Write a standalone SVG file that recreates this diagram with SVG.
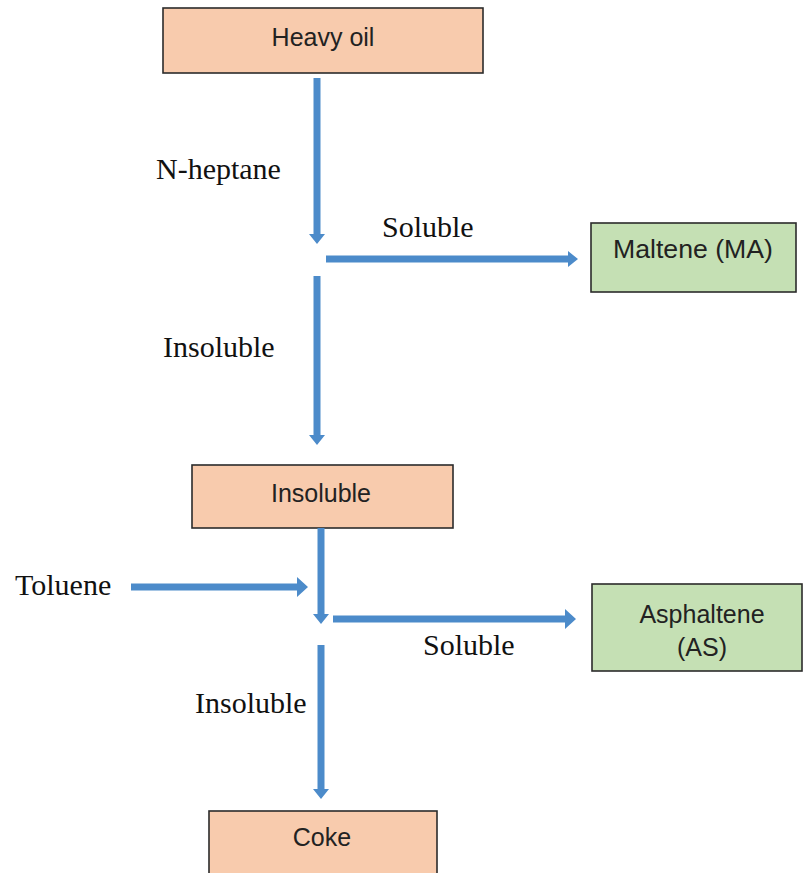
<svg xmlns="http://www.w3.org/2000/svg" width="803" height="873" viewBox="0 0 803 873">
<style>
.box{stroke:#2b2b2b;stroke-width:1.6}
.org{fill:#F8CBAD}
.grn{fill:#C5E0B4}
.nt{font-family:"Liberation Sans",Arial,sans-serif;font-size:25px;fill:#222;text-anchor:middle}
.lb{font-family:"Liberation Serif","Times New Roman",serif;font-size:30px;fill:#111}
.arr{fill:#4C8BCA}
</style>
<rect width="803" height="873" fill="#fff"/>
<g id="heavy-oil"><rect class="box org" x="163" y="8" width="320" height="65"/><text class="nt" x="323" y="46">Heavy oil</text></g>
<g id="maltene"><rect class="box grn" x="591" y="223" width="205" height="69"/><text class="nt" x="693" y="258" textLength="160" lengthAdjust="spacingAndGlyphs">Maltene (MA)</text></g>
<g id="insoluble"><rect class="box org" x="192" y="465" width="261" height="63"/><text class="nt" x="321" y="502">Insoluble</text></g>
<g id="asphaltene"><rect class="box grn" x="592" y="584" width="210" height="87"/><text class="nt" x="702" y="623">Asphaltene</text><text class="nt" x="702" y="656">(AS)</text></g>
<g id="coke"><rect class="box org" x="209" y="811" width="228" height="70"/><text class="nt" x="322" y="846">Coke</text></g>
<g id="connectors">
<polygon class="arr" points="313.5,78 320.5,78 320.5,234 325,234 317,244 309,234 313.5,234"/>
<polygon class="arr" points="326,255.5 568,255.5 568,251 578,259 568,267 568,262.5 326,262.5"/>
<polygon class="arr" points="313.5,276 320.5,276 320.5,435 325,435 317,445 309,435 313.5,435"/>
<polygon class="arr" points="317.5,528 324.5,528 324.5,614 329,614 321,624 313,614 317.5,614"/>
<polygon class="arr" points="131,583.5 297,583.5 297,577 308,587 297,597 297,590.5 131,590.5"/>
<polygon class="arr" points="333,615.5 565,615.5 565,609 576,619 565,629 565,622.5 333,622.5"/>
<polygon class="arr" points="317.5,645 324.5,645 324.5,789 329,789 321,799 313,789 317.5,789"/>
</g>
<g id="labels">
<text class="lb" x="156" y="179">N-heptane</text>
<text class="lb" x="382" y="237">Soluble</text>
<text class="lb" x="163" y="357">Insoluble</text>
<text class="lb" x="15" y="595">Toluene</text>
<text class="lb" x="423" y="655">Soluble</text>
<text class="lb" x="195" y="713">Insoluble</text>
</g>
</svg>
